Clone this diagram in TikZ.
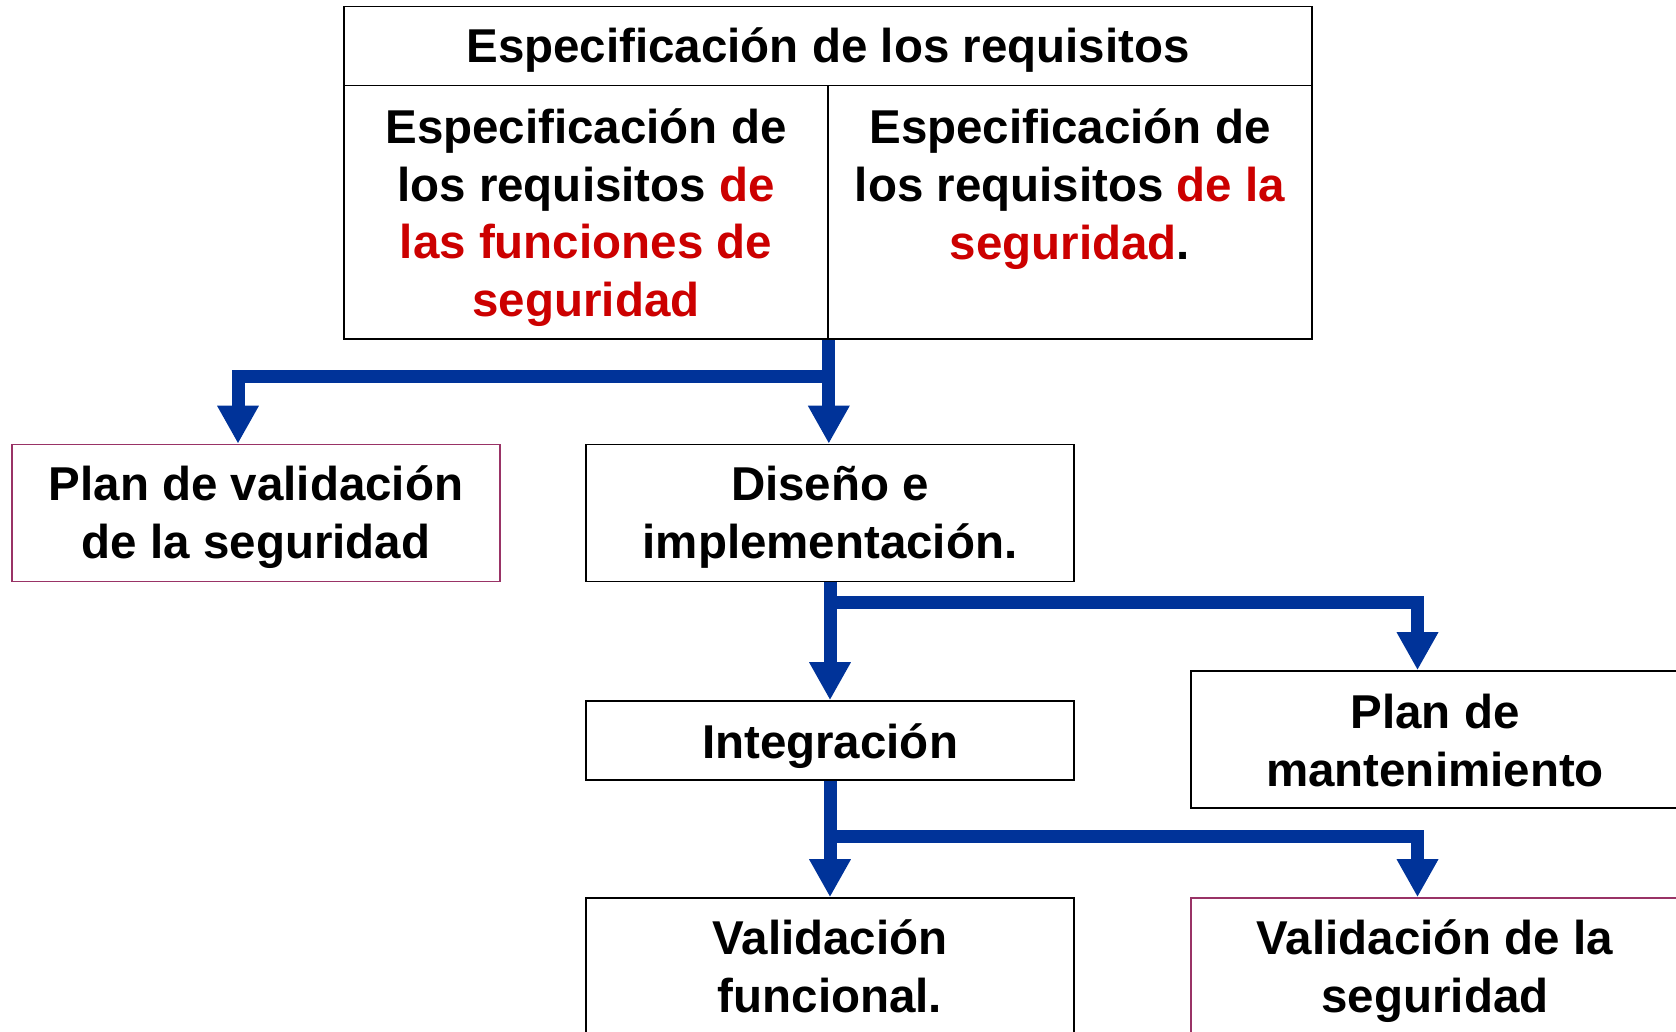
\documentclass[tikz,border=0pt]{standalone}
\usepackage{fontspec}
\setmainfont{Liberation Sans}
\usetikzlibrary{arrows.meta}
\definecolor{arrowblue}{HTML}{003399}
\definecolor{redtxt}{HTML}{CC0000}
\definecolor{boxmag}{HTML}{993366}
\begin{document}
\begin{tikzpicture}[x=1pt,y=-1pt,
  txt/.style={font=\bfseries\fontsize{47.5}{57.7}\selectfont,align=center,inner sep=0pt},
  box/.style={draw=black,line width=1.6pt,minimum width=488pt,minimum height=137pt,inner sep=0pt},
  magbox/.style={box,draw=boxmag},
  cell/.style={draw=black,line width=1.6pt,minimum width=484pt,minimum height=253.5pt,inner sep=0pt},
  flow/.style={draw=arrowblue,line width=13pt,-{Triangle[width=39pt,length=38pt]}}
]
\useasboundingbox (0,0) rectangle (1676,1032);
% top table
\node[draw=black,line width=1.6pt,minimum width=968pt,minimum height=79pt,inner sep=0pt] (hdr) at (828,46) {};
\node[cell] (cellL) at (586,212.25) {};
\node[cell] (cellR) at (1070,212.25) {};
\node[txt] (hdrt) at ([yshift=-4.3pt]hdr.center) {Especificación de los requisitos};
\node[txt] (cellLt) at ([yshift=-5.3pt]cellL.center) {Especificación de\\los requisitos \textcolor{redtxt}{de}\\\textcolor{redtxt}{las funciones de}\\\textcolor{redtxt}{seguridad}};
\node[txt] (cellRt) at (1070,189.3) {Especificación de\\los requisitos \textcolor{redtxt}{de la}\\\textcolor{redtxt}{seguridad}.};
% boxes
\node[magbox] (planval) at (256,513) {};
\node[box] (dis) at (830,513) {};
\node[box,minimum height=79pt] (integ) at (830,740.5) {};
\node[box] (mant) at (1435,739.5) {};
\node[box] (valfun) at (830,966.5) {};
\node[magbox] (valseg) at (1435,966.5) {};
\node[txt] (planvalt) at ([yshift=-4.3pt]planval.center) {Plan de validación\\de la seguridad};
\node[txt] (dist) at ([yshift=-4.3pt]dis.center) {Diseño e\\implementación.};
\node[txt] (integt) at ([yshift=-5.3pt]integ.center) {Integración};
\node[txt] (mantt) at ([yshift=-1pt]mant.center) {Plan de\\mantenimiento};
\node[txt] (valfunt) at (valfun.center) {Validación\\funcional.};
\node[txt] (valsegt) at ([yshift=-4.3pt]valseg.center) {Validación de la\\seguridad};
% connectors
\coordinate (j1) at (828,376);
\coordinate (j2) at (830,602);
\coordinate (j3) at (830,836);
\draw[flow] (cellL.south east) -- (cellL.south east |- dis.north);
\draw[flow] (j1) -| ([xshift=-18pt]planval.north);
\draw[flow] (dis.south) -- (integ.north);
\draw[flow] (j2) -| ([xshift=-17.5pt]mant.north);
\draw[flow] (integ.south) -- (valfun.north);
\draw[flow] (j3) -| ([xshift=-17.5pt]valseg.north);
\end{tikzpicture}
\end{document}
